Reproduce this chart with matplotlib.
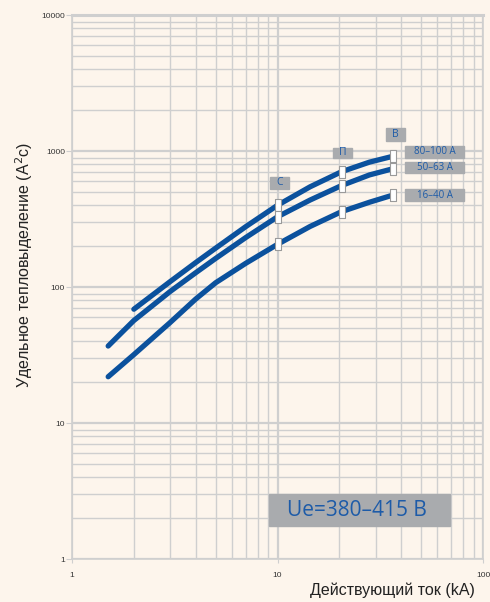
import matplotlib
matplotlib.use("Agg")
import matplotlib.pyplot as plt
from matplotlib.patches import Rectangle
from matplotlib.ticker import FixedLocator, NullFormatter, FuncFormatter

# current, kA / let-through energy, A^2s
x_80_100 = [2, 3, 4, 5, 7, 10, 14.4, 20.5, 28, 36.5]
y_80_100 = [69, 110, 152, 194, 279, 401, 548, 708, 832, 920]

x_50_63 = [1.5, 2, 3, 4, 5, 7, 10, 14.4, 20.5, 28, 36.5]
y_50_63 = [37, 57, 93, 128, 163, 232, 330, 438, 560, 670, 745]

x_16_40 = [1.5, 2, 3, 4, 5, 7, 10, 14.4, 20.5, 28, 36.5]
y_16_40 = [22, 32, 55, 82, 108, 150, 207, 280, 360, 422, 477]

# marker points (C, П, B characteristics)
mark_x = [10, 20.5, 36.5]
mark_80_100 = [401, 708, 920]
mark_50_63 = [330, 560, 745]
mark_16_40 = [207, 360, 477]

series_labels = ["80\u2013100 A", "50\u201363 A", "16\u201340 A"]
char_labels = ["С", "П", "В"]

W, H = 490, 602
bg = "#fdf5ec"
blue = "#0b519d"
txtblue = "#1d5ba8"
boxgray = "#a9abae"
gridc = "#cfcfcf"

fig = plt.figure(figsize=(W / 100, H / 100), dpi=100, facecolor=bg)
ax = fig.add_axes([72 / W, 1 - 559.3 / H, 411 / W, 544 / H], facecolor=bg)
ax.set_xscale("log")
ax.set_yscale("log")
ax.set_xlim(1, 100)
ax.set_ylim(1, 10000)

minors = [m * 10.0 ** k for k in range(0, 4) for m in range(2, 10)]
ax.xaxis.set_minor_locator(FixedLocator(minors))
ax.yaxis.set_minor_locator(FixedLocator(minors))
ax.xaxis.set_minor_formatter(NullFormatter())
ax.yaxis.set_minor_formatter(NullFormatter())
ax.yaxis.set_major_formatter(FuncFormatter(lambda v, p: "%d" % v))
ax.xaxis.set_major_formatter(FuncFormatter(lambda v, p: "%d" % v))
ax.grid(which="major", color=gridc, lw=1.6)
ax.grid(which="minor", color=gridc, lw=1.0)
ax.set_axisbelow(True)
for s in ax.spines.values():
    s.set_color(gridc)
    s.set_linewidth(1.2)
ax.spines["top"].set_linewidth(2.2)

ax.tick_params(axis="y", which="major", length=4, color=gridc, labelsize=6,
               labelcolor="#333333", pad=1)
ax.tick_params(axis="x", which="major", length=3, color=gridc, labelsize=6,
               labelcolor="#333333", pad=6)
ax.tick_params(which="minor", length=0)
for lab in ax.get_xticklabels() + ax.get_yticklabels():
    lab.set_family("Liberation Sans")

for xs, ys in [(x_80_100, y_80_100), (x_50_63, y_50_63), (x_16_40, y_16_40)]:
    ax.plot(xs, ys, color=blue, lw=3.8, solid_capstyle="round",
            solid_joinstyle="round", zorder=3)

rect = [(-0.55, -1), (0.55, -1), (0.55, 1), (-0.55, 1), (-0.55, -1)]
for ys in [mark_80_100, mark_50_63, mark_16_40]:
    ax.plot(mark_x, ys, ls="none", marker=rect, ms=9, mfc="white",
            mec="#9a9a9a", mew=0.8, zorder=4)


def box(x0, y0, x1, y1, text, fs, tx=None, family="Open Sans"):
    fig.patches.append(Rectangle((x0 / W, 1 - y1 / H), (x1 - x0) / W, (y1 - y0) / H,
                                 transform=fig.transFigure, color=boxgray, zorder=5))
    if tx is None:
        fig.text((x0 + x1) / 2 / W, 1 - (y0 + y1) / 2 / H, text, ha="center",
                 va="center", fontsize=fs, color=txtblue, family=family, zorder=6)
    else:
        fig.text(tx / W, 1 - (y0 + y1) / 2 / H, text, ha="left",
                 va="center", fontsize=fs, color=txtblue, family=family, zorder=6)


box(270, 177, 289, 189, char_labels[0], 7.5)
box(333, 148, 352, 158, char_labels[1], 7.5)
box(386, 128, 405, 141, char_labels[2], 7.5)
box(405, 146, 464, 158, series_labels[0], 7)
box(405, 162, 464, 173, series_labels[1], 7)
box(405, 189, 464, 201, series_labels[2], 7)
box(269, 494, 450, 526, "Ue=380\u2013415 B", 15, tx=287)

lab_font = ["Liberation Sans", "DejaVu Sans"]
fig.text(24 / W, 1 - 265 / H, "Удельное тепловыделение (A$^{2}$c)", rotation=90,
         ha="center", va="center", fontsize=11.5, color="#222222", family=lab_font)
fig.text(392 / W, 1 - 590 / H, "Действующий ток (kA)", ha="center", va="center",
         fontsize=11.5, color="#222222", family=lab_font)

fig.savefig("out.png", dpi=100, facecolor=bg)
